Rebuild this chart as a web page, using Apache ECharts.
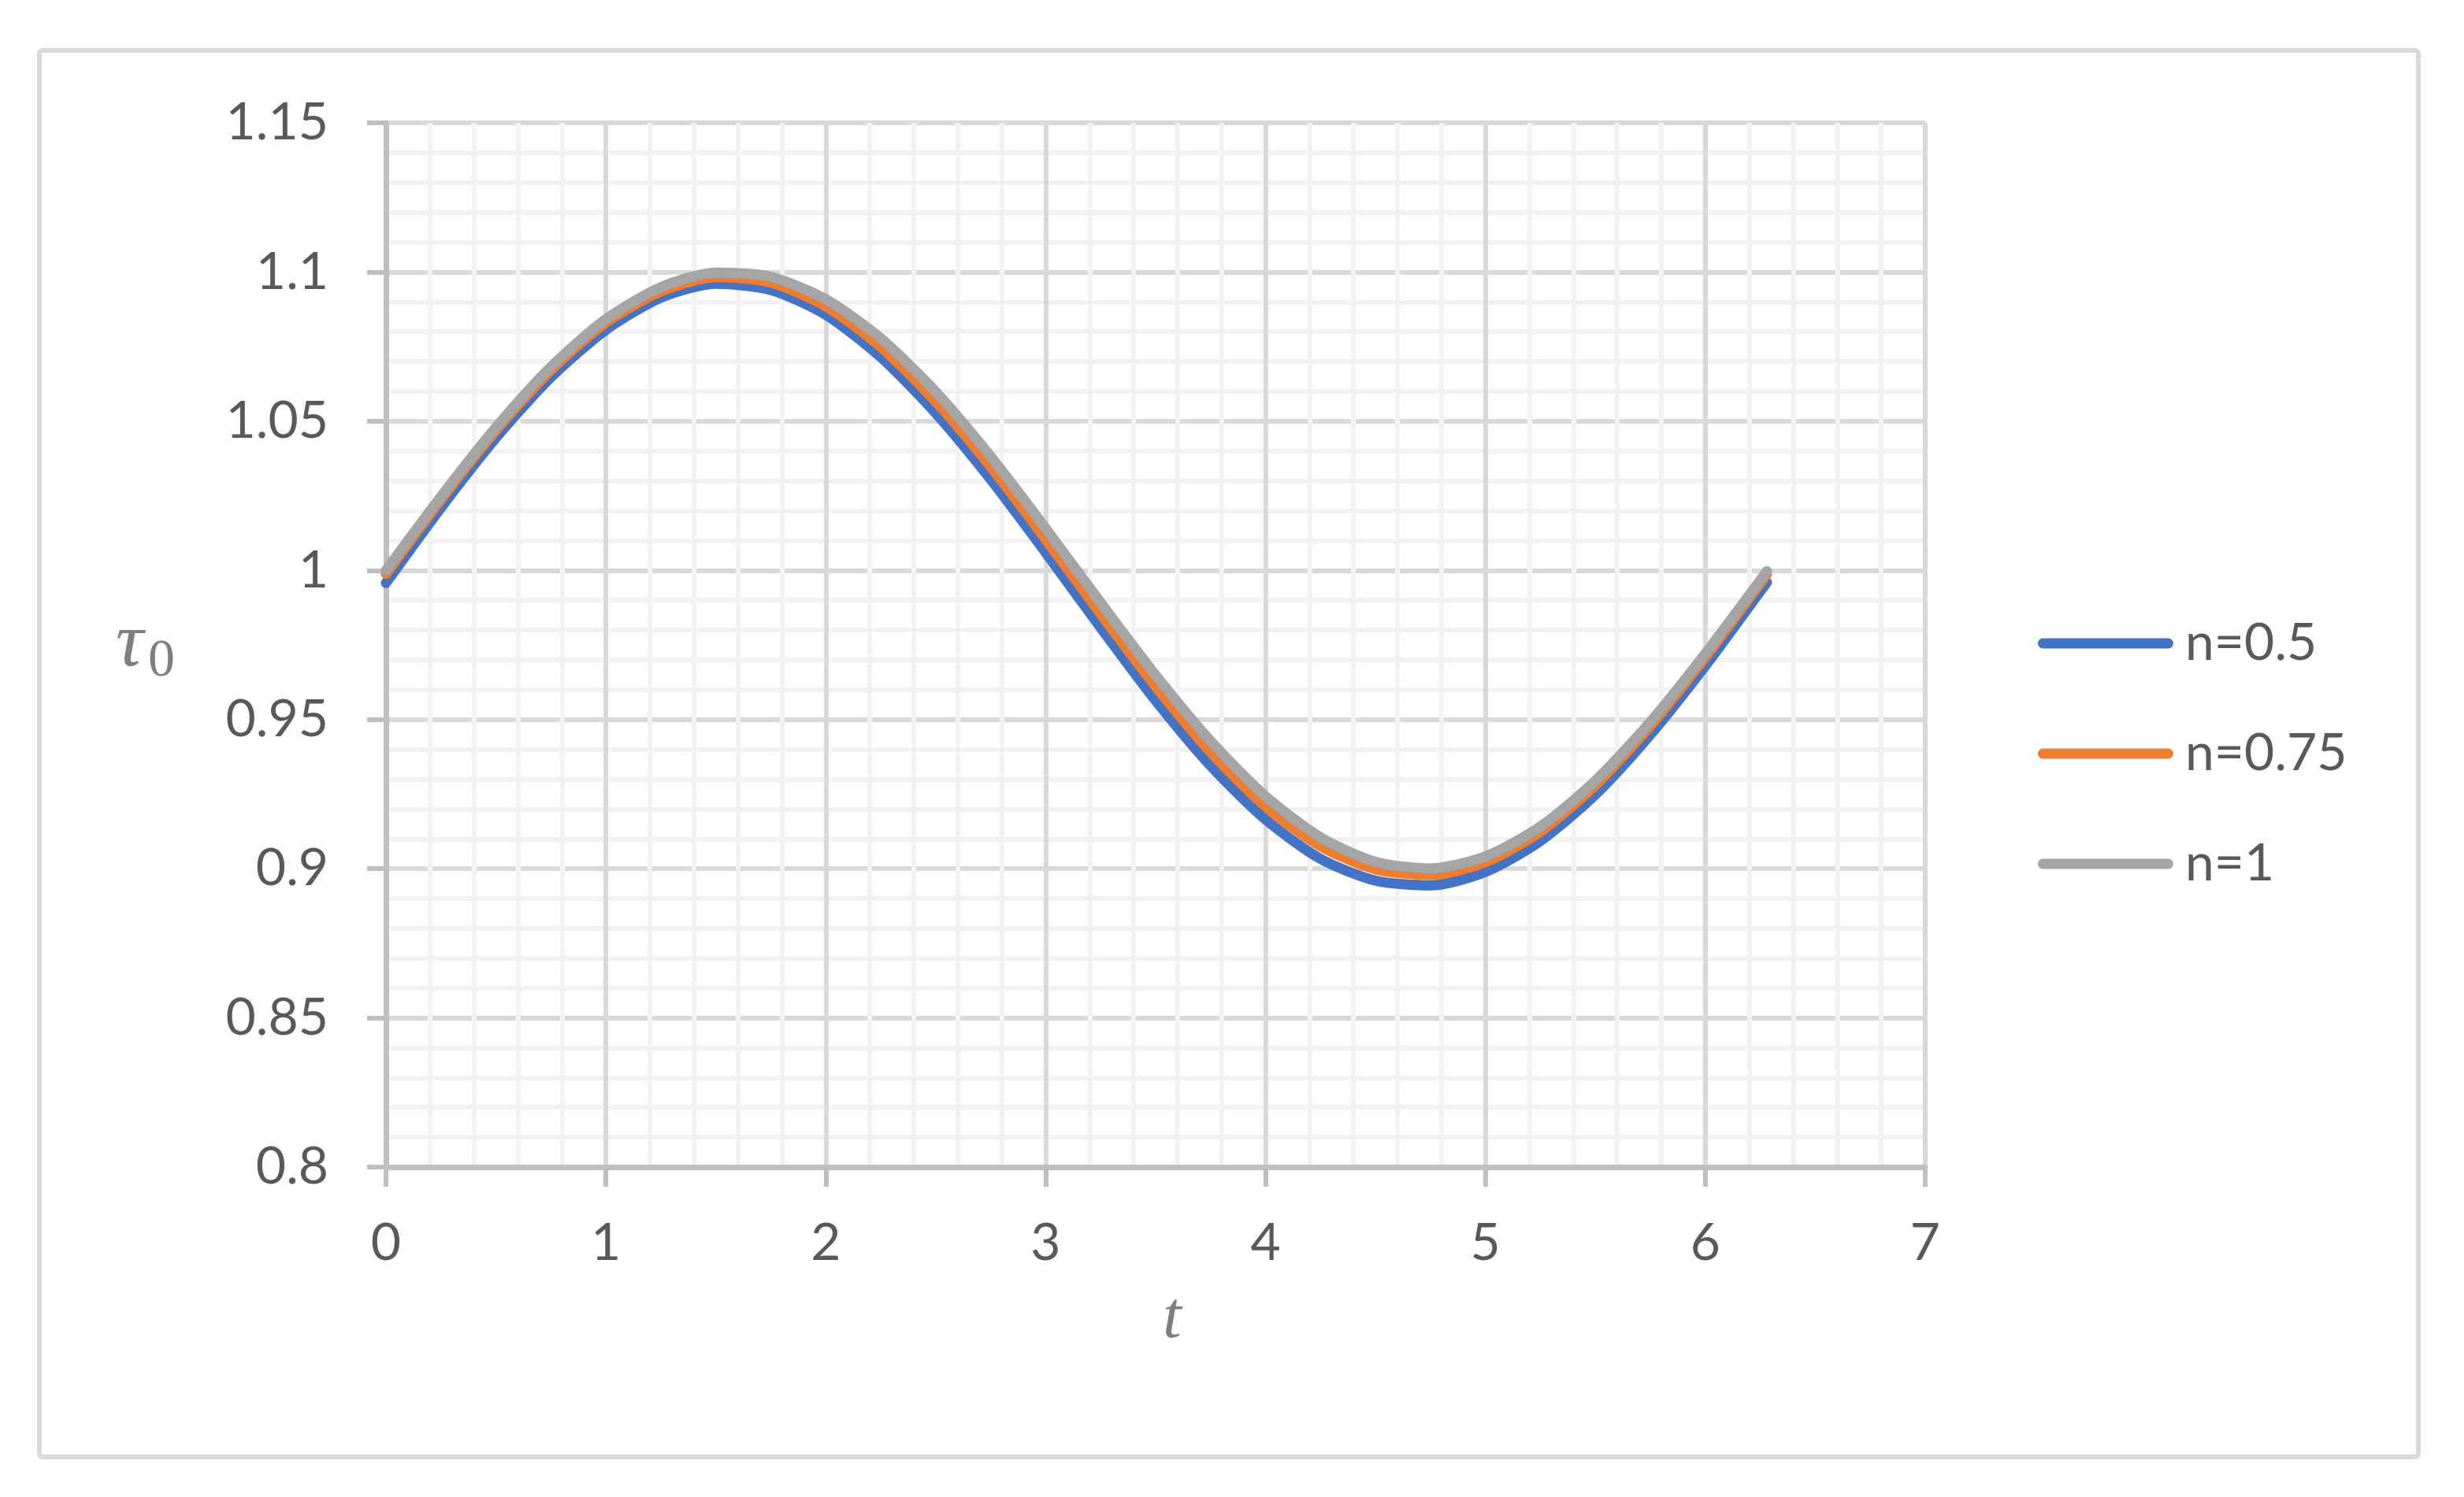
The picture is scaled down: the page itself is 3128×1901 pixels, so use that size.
<!DOCTYPE html>
<html>
<head>
<meta charset="utf-8">
<title>tau0 vs t</title>
<script src="https://cdn.jsdelivr.net/npm/echarts@6/dist/echarts.min.js"></script>
<style>
  html, body { margin: 0; padding: 0; background: #ffffff; }
  #chart { width: 3128px; height: 1901px; }
</style>
</head>
<body>
<div id="chart"></div>
<script>
// t 取值
const tValues = [0, 0.25, 0.5, 0.75, 1, 1.25, 1.5, 1.75, 2, 2.25, 2.5, 2.75, 3, 3.25, 3.5,
  3.75, 4, 4.25, 4.5, 4.75, 5, 5.25, 5.5, 5.75, 6, 6.25, 6.28]

// n=0.5
const tauN05 = [0.9958, 1.0210, 1.0444, 1.0647, 1.0806, 1.0914, 1.0961, 1.0940, 1.0857, 1.0715,
  1.0527, 1.0305, 1.0060, 0.9808, 0.9564, 0.9345, 0.9165, 0.9033, 0.8960, 0.8944, 0.8989,
  0.9093, 0.9248, 0.9449, 0.9680, 0.9930, 0.9960]

// n=0.75
const tauN075 = [0.9988, 1.0237, 1.0469, 1.0671, 1.0830, 1.0935, 1.0983, 1.0965, 1.0885, 1.0749,
  1.0566, 1.0347, 1.0104, 0.9854, 0.9611, 0.9391, 0.9209, 0.9075, 0.8998, 0.8979, 0.9022,
  0.9124, 0.9280, 0.9479, 0.9709, 0.9957, 0.9987]

// n=1
const tauN1 = [1.0000, 1.0247, 1.0479, 1.0682, 1.0842, 1.0949, 1.0998, 1.0984, 1.0909, 1.0778,
  1.0599, 1.0382, 1.0141, 0.9892, 0.9649, 0.9428, 0.9243, 0.9105, 0.9023, 0.9001, 0.9041,
  0.9141, 0.9295, 0.9492, 0.9721, 0.9967, 0.9997]

const seriesNames = ['n=0.5', 'n=0.75', 'n=1']
const seriesColors = ['#4472c4', '#ed7d31', '#a5a5a5']

const pairs = (ys) => tValues.map((t, i) => [t, ys[i]])

const labelColor = '#595959'
const font = 'Lato, "Open Sans", sans-serif'

const chart = echarts.init(document.getElementById('chart'))

const lineSeries = (idx, ys) => ({
  name: seriesNames[idx],
  type: 'line',
  data: pairs(ys),
  smooth: 0.25,
  showSymbol: false,
  color: seriesColors[idx],
  lineStyle: { color: seriesColors[idx], width: 13, cap: 'round', join: 'round' }
})

const option = {
  backgroundColor: '#ffffff',
  animation: false,
  graphic: [
    {
      type: 'rect',
      shape: { x: 50, y: 64, width: 3020, height: 1786, r: 4 },
      style: { fill: 'none', stroke: '#d9d9d9', lineWidth: 6 },
      silent: true
    }
  ],
  grid: {
    left: 490,
    right: 684,
    top: 156,
    bottom: 419
  },
  legend: {
    orient: 'vertical',
    left: 2582,
    top: 779,
    itemWidth: 172,
    itemHeight: 13,
    itemGap: 74,
    icon: 'path://M6.5,0 L165.5,0 A6.5,6.5 0 0 1 165.5,13 L6.5,13 A6.5,6.5 0 0 1 6.5,0 Z',
    data: seriesNames,
    textStyle: {
      color: labelColor,
      fontFamily: font,
      fontSize: 66,
      lineHeight: 66,
      padding: [0, 0, 0, 10]
    }
  },
  xAxis: {
    type: 'value',
    min: 0,
    max: 7,
    interval: 1,
    name: 't',
    nameLocation: 'middle',
    nameGap: 152,
    nameTextStyle: {
      color: '#7f7f7f',
      fontFamily: '"Liberation Serif", serif',
      fontStyle: 'italic',
      fontSize: 84,
      padding: [0, 0, 0, 42]
    },
    axisLine: { show: true, onZero: false, lineStyle: { color: '#bfbfbf', width: 7 } },
    axisTick: { show: true, inside: false, length: 25, lineStyle: { color: '#bfbfbf', width: 6 } },
    axisLabel: { color: labelColor, fontFamily: font, fontSize: 66, margin: 64 },
    splitLine: { show: true, lineStyle: { color: '#d9d9d9', width: 6 } },
    minorTick: { show: false, splitNumber: 5 },
    minorSplitLine: { show: true, lineStyle: { color: '#f2f2f2', width: 6 } }
  },
  yAxis: {
    type: 'value',
    min: 0.8,
    max: 1.15,
    interval: 0.05,
    name: '{t|τ}{s|0}',
    nameLocation: 'middle',
    nameRotate: 0,
    nameGap: 268,
    nameTextStyle: {
      rich: {
        t: {
          color: '#7f7f7f',
          fontFamily: '"Liberation Serif", serif',
          fontStyle: 'italic',
          fontSize: 98
        },
        s: {
          color: '#7f7f7f',
          fontFamily: '"Liberation Serif", serif',
          fontSize: 68,
          padding: [42, 0, 0, 6]
        }
      }
    },
    axisLine: { show: true, lineStyle: { color: '#bfbfbf', width: 7 } },
    axisTick: { show: true, inside: false, length: 24, lineStyle: { color: '#bfbfbf', width: 6 } },
    axisLabel: { color: labelColor, fontFamily: font, fontSize: 66, margin: 73 },
    splitLine: { show: true, lineStyle: { color: '#d9d9d9', width: 6 } },
    minorTick: { show: false, splitNumber: 5 },
    minorSplitLine: { show: true, lineStyle: { color: '#f2f2f2', width: 6 } }
  },
  series: [
    lineSeries(0, tauN05),
    lineSeries(1, tauN075),
    lineSeries(2, tauN1)
  ]
}

chart.setOption(option)
</script>
</body>
</html>
